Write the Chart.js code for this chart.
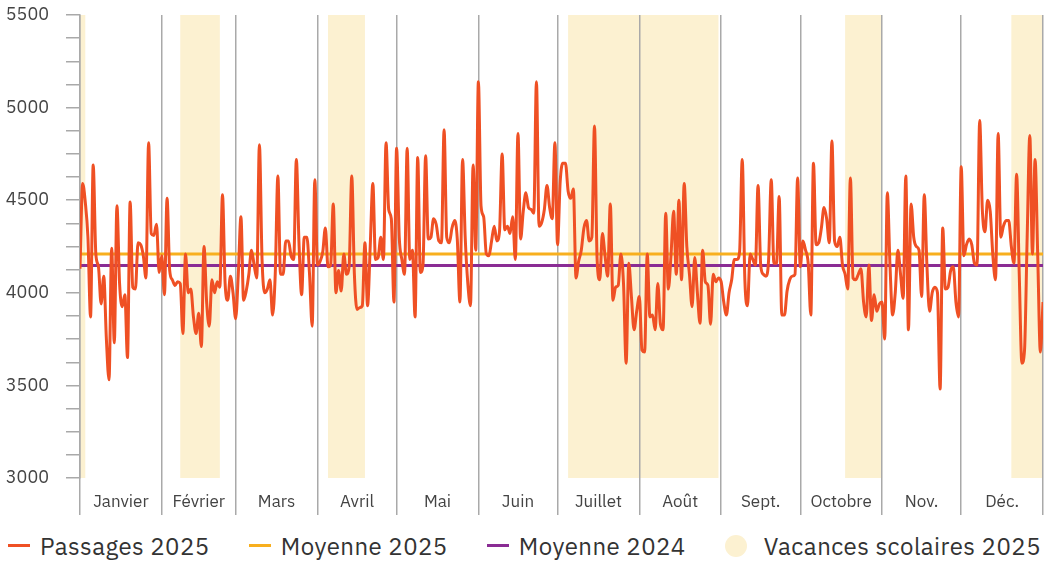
<!DOCTYPE html>
<html lang="fr">
<head>
<meta charset="utf-8">
<title>Passages 2025</title>
<script src="https://cdn.jsdelivr.net/npm/chart.js@4.4.1/dist/chart.umd.min.js"></script>
<style>
  html, body { margin: 0; padding: 0; background: #fff; }
  #graph { width: 1049px; height: 522px; position: relative; }
  #legende {
    width: 1049px; height: 47px; box-sizing: border-box;
    display: flex; justify-content: space-between; align-items: center;
    padding: 0 8px 0 8px;
    font-family: 'IBM Plex Sans', 'Noto Sans', sans-serif; font-size: 24px; letter-spacing: 0.45px; color: #333;
  }
  #legende .item { display: flex; align-items: center; white-space: nowrap; }
  #legende .trait { display: inline-block; width: 22px; height: 3px; margin-right: 10px; }
  #legende .rond { display: inline-block; width: 22px; height: 22px; border-radius: 50%; margin-right: 17px; }
</style>
</head>
<body>
<div id="graph"><canvas id="myChart"></canvas></div>
<div id="legende"></div>
<script>
// --- données ---
const mois = ['Janvier', 'Février', 'Mars', 'Avril', 'Mai', 'Juin', 'Juillet', 'Août', 'Sept.', 'Octobre', 'Nov.', 'Déc.'];
const joursParMois = [31, 28, 31, 30, 31, 30, 31, 31, 30, 31, 30, 31];

const janvier = [4130, 4590, 4490, 4300, 3870, 4690, 4210, 4140, 3940, 4090, 3750, 3530, 4240, 3730, 4470, 4050, 3925, 3990, 3650, 4490, 4030, 4020, 4270, 4260, 4200, 4080, 4810, 4320, 4310, 4370, 4110];
const fevrier = [4200, 3990, 4510, 4120, 4070, 4040, 4060, 4050, 3780, 4210, 4000, 4020, 3870, 3780, 3890, 3710, 4250, 3950, 3820, 4070, 4000, 4060, 4030, 4530, 4050, 3960, 4090, 4000];
const mars = [3860, 4100, 4410, 3960, 4010, 4100, 4230, 4150, 4080, 4800, 4180, 4000, 4020, 4070, 3880, 4100, 4630, 4100, 4100, 4280, 4280, 4200, 4180, 4720, 4270, 3990, 4300, 4300, 4100, 3820, 4610];
const avril = [4150, 4170, 4220, 4350, 4140, 4150, 4480, 4000, 4120, 4010, 4210, 4100, 4140, 4630, 4100, 3910, 3920, 3930, 4270, 3930, 4250, 4590, 4180, 4190, 4300, 4180, 4810, 4450, 4400, 3950];
const mai = [4780, 4300, 4180, 4100, 4780, 4180, 4230, 3870, 4730, 4110, 4150, 4740, 4290, 4300, 4400, 4370, 4280, 4270, 4880, 4300, 4270, 4350, 4390, 4290, 3950, 4720, 4300, 4050, 3930, 4690, 4230];
const juin = [5140, 4470, 4410, 4210, 4200, 4280, 4360, 4280, 4330, 4750, 4340, 4360, 4320, 4410, 4180, 4860, 4290, 4440, 4540, 4460, 4450, 4430, 5140, 4360, 4380, 4450, 4580, 4460, 4400, 4810];
const juillet = [4260, 4600, 4700, 4700, 4550, 4510, 4560, 4080, 4170, 4230, 4350, 4390, 4280, 4300, 4900, 4180, 4070, 4320, 4200, 4090, 4480, 3960, 4030, 4040, 4210, 4050, 3620, 4160, 3980, 3800, 3900];
const aout = [3980, 3690, 3680, 4210, 3870, 3880, 3800, 4050, 3830, 3800, 4430, 4020, 4200, 4440, 4100, 4500, 4070, 4590, 4250, 4100, 3925, 4190, 4000, 3835, 4230, 4060, 4040, 3830, 4100, 4060, 4080];
const septembre = [4060, 3950, 3880, 4000, 4070, 4180, 4180, 4220, 4720, 4070, 3930, 4210, 4180, 4150, 4580, 4150, 4100, 4090, 4180, 4610, 4160, 4160, 4520, 3880, 3880, 4010, 4070, 4090, 4100, 4620];
const octobre = [4140, 4280, 4230, 4160, 3880, 4700, 4260, 4270, 4350, 4460, 4400, 4270, 4820, 4280, 4250, 4300, 4150, 4100, 4020, 4620, 4080, 4070, 4100, 4130, 3950, 3870, 4150, 3850, 3990, 3900, 3940];
const novembre = [3950, 3750, 4540, 4150, 3880, 4000, 4230, 4100, 3970, 4630, 3800, 4480, 4300, 4250, 4230, 3980, 4530, 4150, 3900, 4000, 4030, 4000, 3480, 4350, 4020, 4030, 4120, 4140, 3950, 3870];
const decembre = [4680, 4200, 4260, 4290, 4260, 4160, 4150, 4930, 4450, 4330, 4500, 4440, 4200, 4070, 4860, 4300, 4360, 4390, 4390, 4250, 4160, 4640, 4100, 3620, 3690, 4300, 4850, 4210, 4720, 4200, 3680];
const dernierJour = [3950];

const moyenne2025 = 4210;
const moyenne2024 = 4148;

// périodes de vacances (jour de début, jour de fin, comptés depuis le 1er janvier)
const vacances = [[0, 2], [38, 53], [94, 108], [185, 242], [290, 304], [353, 365]];

const ROUGE = '#EF5024';
const ORANGE = '#F8AF1E';
const VIOLET = '#8A2C94';
const CREME = '#FCF1D1';
const GRIS = '#a9a9a9';
const FONT = "'IBM Plex Sans', 'Noto Sans', sans-serif";

const passages = [].concat(janvier, fevrier, mars, avril, mai, juin, juillet, aout, septembre, octobre, novembre, decembre, dernierJour);

const debuts = [];
let total = 0;
joursParMois.forEach(n => { debuts.push(total); total += n; });
const bornes = [...debuts, total];
const milieux = debuts.map((d, i) => d + joursParMois[i] / 2);

// bandes de vacances, dessinées derrière la grille
const vacancesPlugin = {
    id: 'vacances',
    beforeDraw(chart) {
        const { ctx, chartArea, scales: { x } } = chart;
        ctx.save();
        ctx.fillStyle = CREME;
        vacances.forEach(([a, b]) => {
            const x1 = x.getPixelForValue(a);
            const x2 = x.getPixelForValue(b);
            ctx.fillRect(x1, chartArea.top, x2 - x1, chartArea.bottom - chartArea.top);
        });
        ctx.restore();
    }
};

// légende html construite depuis les datasets
const legendeHtml = {
    id: 'legendeHtml',
    afterUpdate(chart) {
        const box = document.getElementById('legende');
        box.innerHTML = '';
        chart.data.datasets.forEach(ds => {
            const item = document.createElement('div');
            item.className = 'item';
            const marque = document.createElement('span');
            if (ds.pointStyle === 'circle') {
                marque.className = 'rond';
                marque.style.background = ds.backgroundColor;
            } else {
                marque.className = 'trait';
                marque.style.background = ds.borderColor;
            }
            item.appendChild(marque);
            item.appendChild(document.createTextNode(ds.label));
            box.appendChild(item);
        });
    }
};

const data = {
    datasets: [
        {
            label: 'Passages 2025',
            data: passages.map((v, i) => ({ x: i, y: v })),
            borderColor: ROUGE,
            borderWidth: 3,
            pointRadius: 0,
            cubicInterpolationMode: 'monotone'
        },
        {
            label: 'Moyenne 2025',
            data: [{ x: 0, y: moyenne2025 }, { x: total, y: moyenne2025 }],
            borderColor: ORANGE,
            borderWidth: 3,
            pointRadius: 0
        },
        {
            label: 'Moyenne 2024',
            data: [{ x: 0, y: moyenne2024 }, { x: total, y: moyenne2024 }],
            borderColor: VIOLET,
            borderWidth: 3,
            pointRadius: 0
        },
        {
            label: 'Vacances scolaires 2025',
            data: [],
            backgroundColor: CREME,
            borderColor: CREME,
            pointStyle: 'circle'
        }
    ]
};

const config = {
    type: 'line',
    data: data,
    options: {
        responsive: true,
        maintainAspectRatio: false,
        animation: false,
        layout: { padding: { top: 15, right: 6, left: 0, bottom: 0 } },
        plugins: {
            legend: { display: false },
            tooltip: { enabled: false }
        },
        scales: {
            x: {
                type: 'linear',
                min: 0,
                max: total,
                afterBuildTicks: axis => {
                    axis.ticks = [...bornes, ...milieux].sort((a, b) => a - b).map(v => ({ value: v }));
                },
                afterFit: axis => { axis.height = 44; },
                border: { display: false },
                grid: {
                    color: ctx => (ctx.tick && bornes.includes(ctx.tick.value)) ? GRIS : 'rgba(0,0,0,0)',
                    lineWidth: 1.5,
                    tickLength: 37
                },
                ticks: {
                    autoSkip: false,
                    maxRotation: 0,
                    padding: -23,
                    color: '#444',
                    font: { size: 17, family: FONT },
                    callback: v => {
                        const i = milieux.indexOf(v);
                        return i >= 0 ? mois[i] : '';
                    }
                }
            },
            y: {
                min: 3000,
                max: 5500,
                afterFit: axis => {
                    axis.width = 80;
                    axis.paddingTop = 0;
                    axis.paddingBottom = 0;
                },
                border: { display: true, color: GRIS, width: 1.5 },
                grid: {
                    drawOnChartArea: false,
                    drawTicks: true,
                    tickLength: 14,
                    color: GRIS,
                    lineWidth: 1.5
                },
                ticks: {
                    stepSize: 125,
                    autoSkip: false,
                    padding: 17,
                    color: '#444',
                    font: { size: 18, family: FONT },
                    callback: v => (v % 500 === 0 ? String(v) : '')
                }
            }
        }
    },
    plugins: [vacancesPlugin, legendeHtml]
};

const myChart = new Chart(document.getElementById('myChart'), config);
</script>
</body>
</html>
